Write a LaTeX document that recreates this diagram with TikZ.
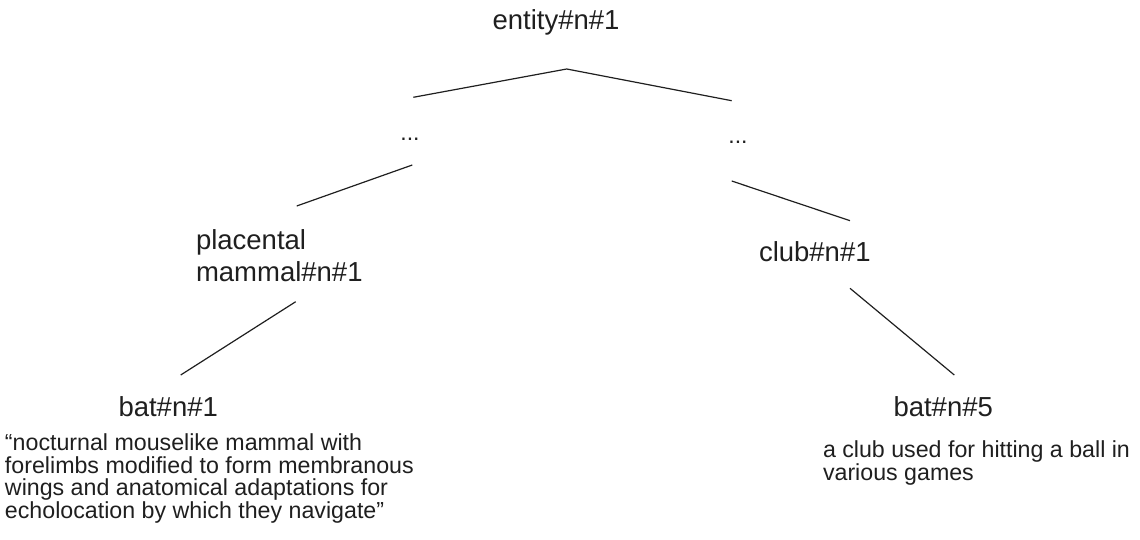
\documentclass[tikz,border=0pt]{standalone}
\usepackage{fontspec}
\setmainfont{Liberation Sans}
\begin{document}
\begin{tikzpicture}[x=1pt,y=-1pt,
  lbl/.style={inner sep=0pt,outer sep=0pt,text=black!88,font=\fontsize{27.5}{31.6}\selectfont},
  desc/.style={inner sep=0pt,outer sep=0pt,text=black!88,align=left,font=\fontsize{23.2}{22.6}\selectfont},
  edge/.style={draw=black!88,line width=1.2pt}]
\useasboundingbox (0,0) rectangle (1140,540);
% nodes
\node[lbl,anchor=base] (entity) at (556,29.5) {entity\#n\#1};
\node[lbl,font=\fontsize{23}{26}\selectfont,anchor=base] (dl) at (410,141) {...};
\node[lbl,font=\fontsize{23}{26}\selectfont,anchor=base] (dr) at (738,144) {...};
\node[lbl,anchor=base west,align=left] (mammal) at (196,281) {placental\\mammal\#n\#1};
\node[lbl,anchor=base west] (club) at (759,261.5) {club\#n\#1};
\node[lbl,anchor=base west] (bat1) at (118.5,416.7) {bat\#n\#1};
\node[lbl,anchor=base west] (bat5) at (893.5,416) {bat\#n\#5};
\node[desc,anchor=base west] (d1) at (5,518.5) {“nocturnal mouselike mammal with\\forelimbs modified to form membranous\\wings and anatomical adaptations for\\echolocation by which they navigate”};
\node[desc,anchor=base west] (d5) at (823,480) {a club used for hitting a ball in\\various games};
% connector end points
\coordinate (apex) at (566.7,69);
\coordinate (eL) at (413.3,97.3);
\coordinate (eR) at (731.7,100.7);
\coordinate (dlA) at (412.3,165);
\coordinate (mA) at (296.7,206);
\coordinate (drA) at (731.7,181);
\coordinate (cA) at (850,220.7);
\coordinate (mB) at (295.7,301.7);
\coordinate (b1A) at (180.7,375);
\coordinate (cB) at (850,288.3);
\coordinate (b5A) at (954.3,375);
% connectors
\draw[edge] (eL) -- (apex) -- (eR);
\draw[edge] (dlA) -- (mA);
\draw[edge] (drA) -- (cA);
\draw[edge] (mB) -- (b1A);
\draw[edge] (cB) -- (b5A);
\end{tikzpicture}
\end{document}
